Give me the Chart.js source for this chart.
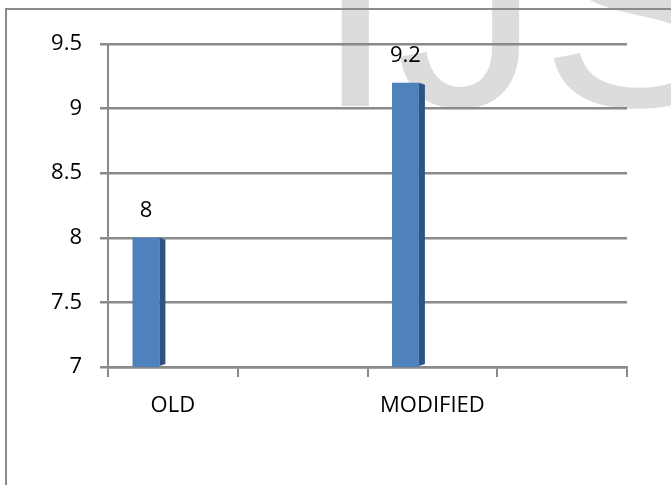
<!DOCTYPE html>
<html>
<head>
<meta charset="utf-8">
<script src="https://cdn.jsdelivr.net/npm/chart.js@4"></script>
<style>
  html, body { margin: 0; padding: 0; background: #fff; }
  #wrap { width: 671px; height: 485px; }
</style>
</head>
<body>
<div id="wrap"><canvas id="chart" width="671" height="485"></canvas></div>
<script>
  const categories = ["OLD", "", "MODIFIED", ""];
  const scores = [8, null, 9.2, null];
  const spacer = [null, null, null, null];
  const yTicks = [7, 7.5, 8, 8.5, 9, 9.5];

  const GRID = "#8a8a8a";
  const FONT = "'Open Sans', 'Liberation Sans', sans-serif";

  // watermark + outer frame, drawn under the chart
  const backdrop = {
    id: "backdrop",
    beforeDraw(chart) {
      const ctx = chart.ctx;
      ctx.save();
      ctx.fillStyle = "#fff";
      ctx.fillRect(0, 0, chart.width, chart.height);
      ctx.fillStyle = "#dcdcdc";
      ctx.font = "290px 'Liberation Sans', Arial, sans-serif";
      ctx.textBaseline = "alphabetic";
      ctx.textAlign = "left";
      ctx.fillText("IJSER", 315, 106);
      ctx.strokeStyle = GRID;
      ctx.lineWidth = 2;
      ctx.beginPath();
      ctx.moveTo(6, chart.height + 5);
      ctx.lineTo(6, 9);
      ctx.lineTo(chart.width + 5, 9);
      ctx.stroke();
      ctx.restore();
    },
  };

  // dark side face and value labels
  const barDecor = {
    id: "barDecor",
    afterDatasetsDraw(chart) {
      const ctx = chart.ctx;
      const meta = chart.getDatasetMeta(0);
      const floor = chart.chartArea.bottom;
      ctx.save();
      meta.data.forEach((bar, i) => {
        const v = scores[i];
        if (v == null) return;
        const right = bar.x + bar.width / 2;
        ctx.fillStyle = "#2f5383";
        ctx.beginPath();
        ctx.moveTo(right, bar.y);
        ctx.lineTo(right + 6, bar.y + 2);
        ctx.lineTo(right + 6, floor - 3);
        ctx.lineTo(right, floor - 1);
        ctx.closePath();
        ctx.fill();
        ctx.fillStyle = "#000";
        ctx.font = "22px " + FONT;
        ctx.textAlign = "center";
        ctx.textBaseline = "middle";
        ctx.fillText(String(v), bar.x, bar.y - 27);
      });
      ctx.restore();
    },
  };

  new Chart(document.getElementById("chart"), {
    type: "bar",
    data: {
      labels: categories,
      datasets: [
        {
          label: "score",
          data: scores,
          backgroundColor: "#4f81bd",
          borderWidth: 0,
          categoryPercentage: 0.83,
          barPercentage: 0.5,
        },
        {
          label: "depth",
          data: spacer,
          backgroundColor: "rgba(0,0,0,0)",
          categoryPercentage: 0.83,
          barPercentage: 0.5,
        },
      ],
    },
    options: {
      responsive: false,
      animation: false,
      devicePixelRatio: 1,
      layout: { padding: { left: 0, top: 44, right: 44, bottom: 58 } },
      plugins: {
        legend: { display: false },
        tooltip: { enabled: false },
      },
      scales: {
        x: {
          afterFit: (s) => { s.height = 60; },
          grid: {
            drawOnChartArea: false,
            drawTicks: true,
            tickLength: 10,
            color: GRID,
            lineWidth: 2,
          },
          border: { display: true, color: GRID, width: 2.5 },
          ticks: {
            color: "#000",
            font: { family: FONT, size: 22 },
            padding: 16,
            maxRotation: 0,
          },
        },
        y: {
          min: 7,
          max: 9.5,
          afterFit: (s) => { s.width = 108; },
          afterBuildTicks: (s) => { s.ticks = yTicks.map((v) => ({ value: v })); },
          grid: {
            color: GRID,
            lineWidth: 2.5,
            drawTicks: true,
            tickLength: 8,
          },
          border: { display: true, color: GRID, width: 2 },
          ticks: {
            color: "#000",
            font: { family: FONT, size: 22 },
            padding: 18,
            callback: (v) => String(v),
          },
        },
      },
    },
    plugins: [backdrop, barDecor],
  });
</script>
</body>
</html>
